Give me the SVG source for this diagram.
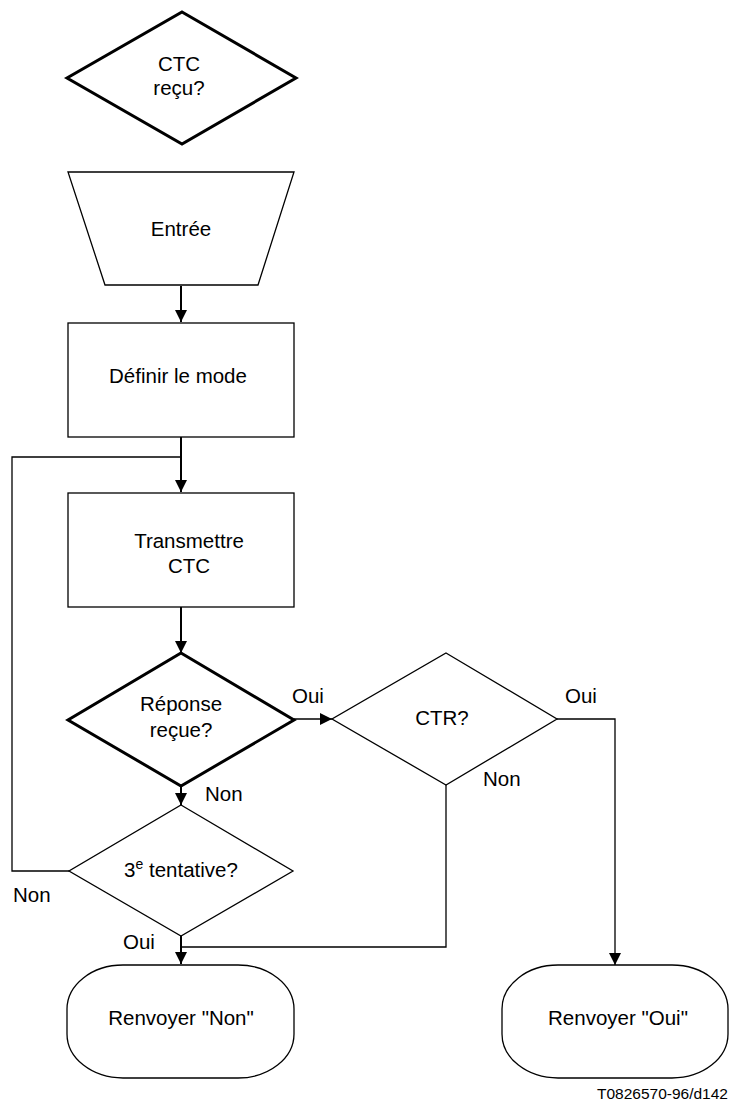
<svg xmlns="http://www.w3.org/2000/svg" width="731" height="1103" viewBox="0 0 731 1103">
<style>
text{font-family:"Liberation Sans",Arial,sans-serif;font-size:20.5px;fill:#000}
.t{text-anchor:middle}
.thick{fill:#fff;stroke:#000;stroke-width:3;stroke-linejoin:miter}
.shape{fill:#fff;stroke:#000;stroke-width:1.3}
.c{fill:none;stroke:#000;stroke-width:1.3}
.cb{fill:none;stroke:#000;stroke-width:2}
.note{font-size:15.5px}
</style>
<defs>
<marker id="arr" markerUnits="userSpaceOnUse" markerWidth="12" markerHeight="12" refX="12" refY="6" orient="auto">
<path d="M0,0 L12,6 L0,12 z" fill="#000"/>
</marker>
</defs>
<rect width="731" height="1103" fill="#fff"/>
<g id="connectors">
<path class="cb" d="M181,286 L181,322" marker-end="url(#arr)"/>
<path class="cb" d="M181,437 L181,492" marker-end="url(#arr)"/>
<path class="c" d="M69,871 L12,871 L12,457 L181,457"/>
<path class="cb" d="M181,607 L181,653" marker-end="url(#arr)"/>
<path class="c" d="M294,719 L332,719" marker-end="url(#arr)"/>
<path class="cb" d="M181,785 L181,805" marker-end="url(#arr)"/>
<path class="c" d="M557,719 L615,719 L615,965" marker-end="url(#arr)"/>
<path class="c" d="M446,785 L446,947 L181,947"/>
<path class="cb" d="M181,936 L181,964" marker-end="url(#arr)"/>
</g>
<g id="ctc-recu">
<polygon class="thick" points="182,12 296,78 182,144 67,78"/>
<text class="t" x="179" y="71">CTC</text>
<text class="t" x="179" y="95">reçu?</text>
</g>
<g id="entree">
<polygon class="shape" points="68,172 294,172 258,285 105,285"/>
<text class="t" x="181" y="236">Entrée</text>
</g>
<g id="definir">
<rect class="shape" x="68" y="323" width="226" height="114"/>
<text class="t" x="178" y="383">Définir le mode</text>
</g>
<g id="transmettre">
<rect class="shape" x="68" y="493" width="226" height="114"/>
<text class="t" x="189" y="548">Transmettre</text>
<text class="t" x="189" y="573">CTC</text>
</g>
<g id="reponse">
<polygon class="thick" points="181,653 294,720 181,786 68,720"/>
<text class="t" x="181" y="711">Réponse</text>
<text class="t" x="181" y="737">reçue?</text>
</g>
<g id="ctr">
<polygon class="shape" points="446,653 557,719 446,785 332,719"/>
<text class="t" x="442" y="725">CTR?</text>
</g>
<g id="tentative">
<polygon class="shape" points="181,805 293,871 181,936 69,871"/>
<text class="t" x="181" y="877">3<tspan font-size="14" dy="-8">e</tspan><tspan dy="8"> tentative?</tspan></text>
</g>
<g id="renvoyer-non">
<rect class="shape" x="67" y="965" width="227" height="113" rx="56" ry="44"/>
<text class="t" x="181" y="1025">Renvoyer "Non"</text>
</g>
<g id="renvoyer-oui">
<rect class="shape" x="502" y="965" width="226" height="113" rx="56" ry="44"/>
<text class="t" x="618" y="1025">Renvoyer "Oui"</text>
</g>
<g id="labels">
<text x="292" y="703">Oui</text>
<text x="565" y="703">Oui</text>
<text x="483" y="786">Non</text>
<text x="205" y="801">Non</text>
<text x="13" y="902">Non</text>
<text x="123" y="949">Oui</text>
<text class="note" x="728" y="1099" text-anchor="end">T0826570-96/d142</text>
</g>
</svg>
